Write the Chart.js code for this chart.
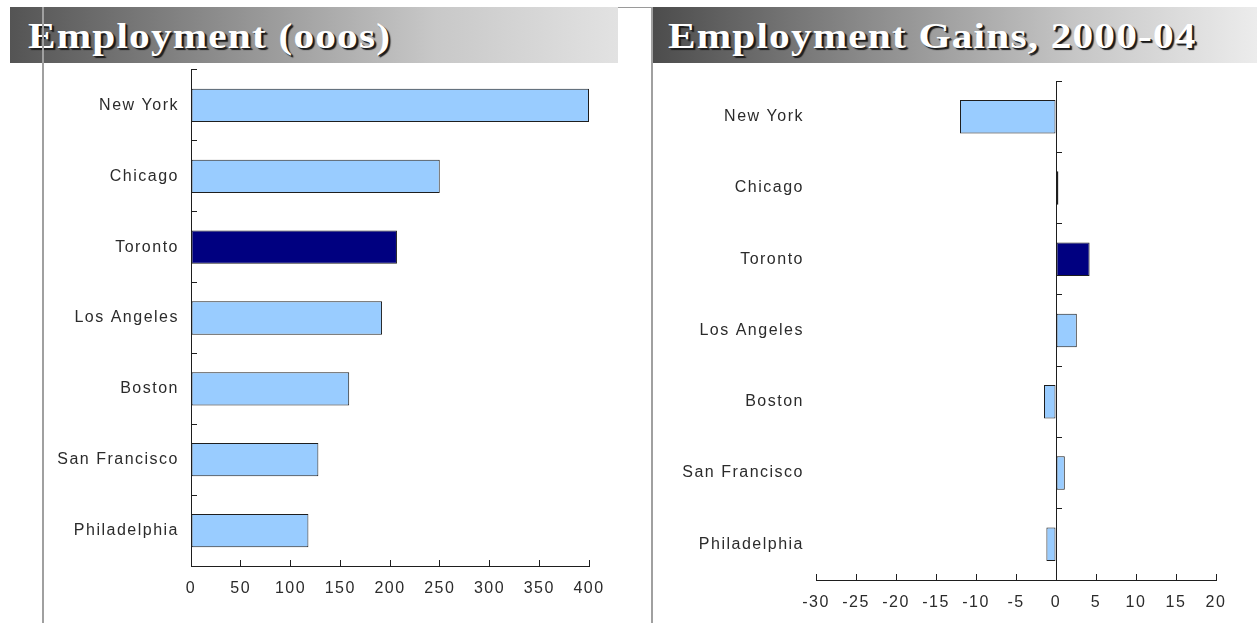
<!DOCTYPE html>
<html>
<head>
<meta charset="utf-8">
<title>Employment</title>
<script src="https://cdn.jsdelivr.net/npm/chart.js@4.4.1/dist/chart.umd.min.js"></script>
<style>
  html, body { margin: 0; padding: 0; background: #ffffff; }
  body { width: 1257px; height: 623px; position: relative; overflow: hidden; }
  .topline { position: absolute; left: 10px; top: 7px; width: 1247px; height: 1px; background: #9a9a9a; }
  .banner { position: absolute; top: 7px; height: 56px; }
  #bannerLeft { left: 10px; width: 608px; background: linear-gradient(to right, #545454 0%, #8e8e8e 35%, #c8c8c8 70%, #e2e2e2 100%); }
  #bannerRight { left: 652px; width: 605px; background: linear-gradient(to right, #4c4c4c 0%, #8a8a8a 35%, #c6c6c6 70%, #ececec 100%); }
  .title {
    position: absolute; top: 19px; line-height: 35px; white-space: nowrap;
    font-family: "Liberation Serif", "Times New Roman", serif; font-weight: bold;
    font-size: 35px; letter-spacing: 1px; color: #ffffff;
    transform-origin: 0 50%; transform: scaleX(1.18);
    text-shadow: 2px 2px 1px #1a1a1a, 1px 1px 0 #333333;
  }
  #titleLeft { left: 28px; }
  #titleRight { left: 668px; }
  .vline { position: absolute; top: 7px; width: 2px; height: 616px; background: #a0a0a0; }
  #vlineLeft { left: 42px; }
  #vlineRight { left: 651px; }
  canvas { position: absolute; }
  #empChart { left: 44px; top: 64px; }
  #gainChart { left: 653px; top: 64px; }
</style>
</head>
<body>
<div class="topline"></div>
<div class="banner" id="bannerLeft"></div>
<div class="banner" id="bannerRight"></div>
<div class="title" id="titleLeft">Employment (ooos)</div>
<div class="title" id="titleRight">Employment Gains, 2000-04</div>
<div class="vline" id="vlineLeft"></div>
<div class="vline" id="vlineRight"></div>
<canvas id="empChart" width="596" height="559"></canvas>
<canvas id="gainChart" width="604" height="559"></canvas>
<script>
// Metro areas, top to bottom
const cities = ['New York', 'Chicago', 'Toronto', 'Los Angeles', 'Boston', 'San Francisco', 'Philadelphia'];
const highlightCity = 'Toronto';

// Total employment, thousands
const employment = [400, 250, 207, 192, 159, 128, 118];
const employmentTicks = [0, 50, 100, 150, 200, 250, 300, 350, 400];

// Employment gains 2000-04
const gains = [-12, 0.3, 4.2, 2.6, -1.5, 1.1, -1.2];
const gainTicks = [-30, -25, -20, -15, -10, -5, 0, 5, 10, 15, 20];

const BAR_FILL = '#99ccff';
const BAR_HIGHLIGHT = '#000080';
const INK = '#1e1e1e';
const LABEL_COLOR = '#2b2b2b';
const LABEL_FONT = { family: '"Liberation Sans", Arial, sans-serif', size: 16 };

const barColors = cities.map(c => c === highlightCity ? BAR_HIGHLIGHT : BAR_FILL);

// Widened label lettering used on both charts
const spacedText = {
  id: 'spacedText',
  beforeDraw(chart) { chart.ctx.letterSpacing = '1.5px'; },
  afterDraw(chart) { chart.ctx.letterSpacing = '0px'; }
};

function barDataset(values) {
  return {
    data: values,
    backgroundColor: barColors,
    borderColor: INK,
    borderWidth: 1,
    borderSkipped: false,
    barPercentage: 0.94,
    categoryPercentage: 0.5
  };
}

// Fixed axis sizes; the chart area is set by the layout padding alone
function fixWidth(w) {
  return scale => { scale.width = w; scale.paddingTop = 0; scale.paddingBottom = 0; };
}
function fixHeight(h) {
  return scale => { scale.height = h; scale.paddingLeft = 0; scale.paddingRight = 0; };
}

function valueAxis(ticksList, height) {
  return {
    type: 'linear',
    min: ticksList[0],
    max: ticksList[ticksList.length - 1],
    afterBuildTicks(scale) { scale.ticks = ticksList.map(v => ({ value: v })); },
    afterFit: fixHeight(height),
    border: { display: true, color: INK, width: 1 },
    grid: { drawOnChartArea: false, drawTicks: true, tickLength: -6, color: INK, lineWidth: 1 },
    ticks: { color: LABEL_COLOR, font: LABEL_FONT, padding: 19, maxRotation: 0, autoSkip: false }
  };
}

const common = {
  responsive: false,
  animation: false,
  devicePixelRatio: 1,
  indexAxis: 'y',
  plugins: { legend: { display: false }, tooltip: { enabled: false } }
};

// Left: employment levels
new Chart(document.getElementById('empChart'), {
  type: 'bar',
  data: { labels: cities, datasets: [barDataset(employment)] },
  plugins: [spacedText],
  options: Object.assign({}, common, {
    layout: { padding: { top: 6, right: 51, bottom: 0, left: 0 } },
    scales: {
      x: valueAxis(employmentTicks, 57),
      y: {
        type: 'category',
        offset: true,
        afterFit: fixWidth(147),
        border: { display: true, color: INK, width: 1 },
        grid: { offset: true, drawOnChartArea: false, drawTicks: true, tickLength: -6, color: INK, lineWidth: 1 },
        ticks: { color: LABEL_COLOR, font: LABEL_FONT, padding: 18 }
      }
    }
  })
});

// Right: employment gains, with the category axis drawn at zero
new Chart(document.getElementById('gainChart'), {
  type: 'bar',
  data: { labels: cities, datasets: [barDataset(gains)] },
  plugins: [spacedText],
  options: Object.assign({}, common, {
    layout: { padding: { top: 17, right: 41, bottom: 0, left: 0 } },
    scales: {
      x: valueAxis(gainTicks, 43),
      y: {
        type: 'category',
        offset: true,
        afterFit: fixWidth(163),
        border: { display: false },
        grid: { display: false, drawTicks: false },
        ticks: { color: LABEL_COLOR, font: LABEL_FONT, padding: 12 }
      },
      yZero: {
        type: 'category',
        axis: 'y',
        labels: cities,
        position: { x: 0 },
        offset: true,
        border: { display: true, color: INK, width: 1 },
        grid: { offset: true, drawOnChartArea: false, drawTicks: true, tickLength: -6, color: INK, lineWidth: 1 },
        ticks: { display: false }
      }
    }
  })
});
</script>
</body>
</html>
